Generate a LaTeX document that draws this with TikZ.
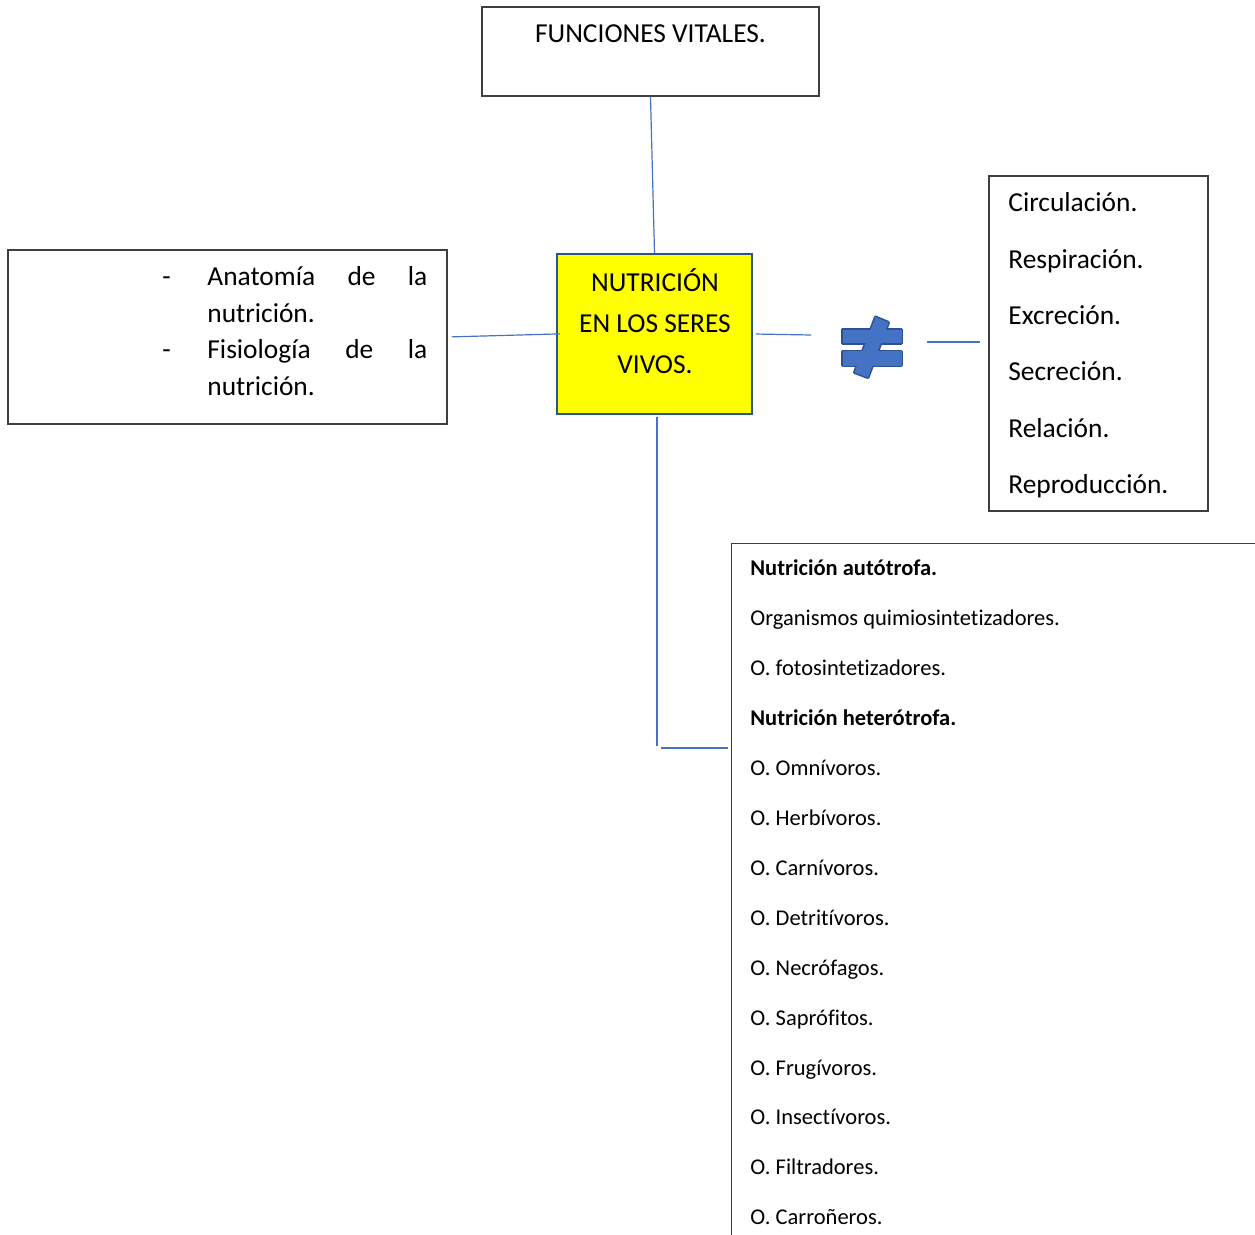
\documentclass[tikz,border=0pt]{standalone}
\usepackage{fontspec}
\setmainfont{Carlito}[Ligatures=NoCommon]
\usetikzlibrary{positioning, calc}
\definecolor{cline}{HTML}{4472C4}
\definecolor{cdark}{HTML}{2F528F}
\definecolor{cedge}{HTML}{3F3F3F}
\definecolor{cyellow}{HTML}{FFFF00}
\tikzset{
  every picture/.style={font=\fontsize{13.7}{16}\selectfont},
  caja/.style={draw=cedge, line width=0.7pt, inner sep=0pt},
  nucleo/.style={draw=cdark, fill=cyellow, line width=1.2pt, inner sep=0pt},
  conector/.style={draw=cline, line width=0.6pt},
  texto/.style={anchor=base west, inner sep=0pt},
  lista/.style={texto, font=\fontsize{11.25}{13}\selectfont},
  signo/.style={fill=cline, draw=cdark, line width=1.5pt, line join=round},
}
\begin{document}
\begin{tikzpicture}[x=0.5pt, y=-0.5pt]
  \useasboundingbox (0,0) rectangle (1255,1235);
  % boxes
  \node[caja, minimum width=168.5pt, minimum height=44.5pt] (vitales) at (650.5,51.5) {};
  \node[nucleo, minimum width=97.5pt, minimum height=80pt] (nutricion) at (654.5,334) {};
  \node[caja, minimum width=219.5pt, minimum height=87pt] (anat) at (227.5,337) {};
  \node[caja, minimum width=109.5pt, minimum height=167.5pt] (funciones) at (1098.5,343.5) {};
  \node[caja, anchor=north west, minimum width=270pt, minimum height=350pt] (tipos) at (731,543) {};
  \coordinate (signo-e) at (903,342);
  % texts
  \node[anchor=base, inner sep=0pt] (vitales-txt) at (650.5,42.3) {FUNCIONES VITALES.};
  \foreach \linea [count=\i from 0] in {NUTRICIÓN, EN LOS SERES, VIVOS.}
    \node[anchor=base, inner sep=0pt] (nut-\i) at (655,291.7+40.8*\i) {\linea};
  \node[anchor=base, inner sep=0pt] (guion-1) at (166.5,286) {-};
  \node[texto] (anat-1) at (207,286) {\makebox[110pt][s]{Anatomía de la}};
  \node[texto] (anat-2) at (207,322.5) {nutrición.};
  \node[anchor=base, inner sep=0pt] (guion-2) at (166.5,359) {-};
  \node[texto] (anat-3) at (207,359) {\makebox[110pt][s]{Fisiología de la}};
  \node[texto] (anat-4) at (207,395.5) {nutrición.};
  \foreach \txt [count=\i from 0] in {Circulación., Respiración., Excreción., Secreción., Relación., Reproducción.}
    \node[texto] (func-\i) at (1008,212+56.3*\i) {\txt};
  \foreach \txt [count=\i from 0] in {\textbf{Nutrición autótrofa.}, Organismos quimiosintetizadores., O. fotosintetizadores., \textbf{Nutrición heterótrofa.}, O. Omnívoros., O. Herbívoros., O. Carnívoros., O. Detritívoros., O. Necrófagos., O. Saprófitos., O. Frugívoros., O. Insectívoros., O. Filtradores., O. Carroñeros.}
    \node[lista] (tipo-\i) at (750,576+49.9*\i) {\txt};
  % not equal sign
  \path[signo] (842.5,330) rectangle (901.5,343.5);
  \path[signo] (842.5,351.5) rectangle (901.5,366);
  \path[signo] (875.5,317) -- (888.5,322.5) -- (868,377.5) -- (854.5,372.5) -- cycle;
  \fill[cline] (842.5,330) rectangle (901.5,343.5);
  \fill[cline] (842.5,351.5) rectangle (901.5,366);
  \fill[cline] (875.5,317) -- (888.5,322.5) -- (868,377.5) -- (854.5,372.5) -- cycle;
  % connectors
  \coordinate (derecha) at (811,335);
  \coordinate (codo) at (657,746);
  \coordinate (codo-h) at (657,748);
  \draw[conector] (vitales.south) -- (nutricion.north);
  \draw[conector, shorten <=2pt, shorten >=-2pt] (anat.east) -- (nutricion.west);
  \draw[conector, shorten <=1.5pt] (nutricion.east) -- (derecha);
  \draw[conector, shorten <=12pt, shorten >=4pt] (signo-e) -- (signo-e -| funciones.west);
  \draw[conector, shorten <=1pt] (codo |- nutricion.south) -- (codo);
  \draw[conector, shorten <=2pt, shorten >=1.5pt] (codo-h) -- (codo-h -| tipos.west);
\end{tikzpicture}
\end{document}
